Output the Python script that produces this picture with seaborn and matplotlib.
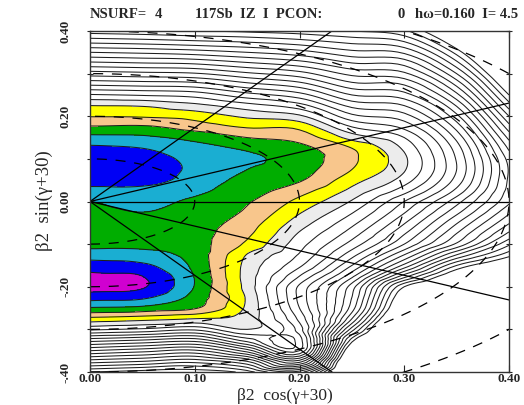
import numpy as np
import matplotlib
matplotlib.use("Agg")
import matplotlib.pyplot as plt
import matplotlib.tri as mtri
import seaborn as sns

# grid of the surface: x = beta2 cos(gamma+30), y = beta2 sin(gamma+30)
GRID_X = [0.00, 0.05, 0.10, 0.15, 0.20, 0.25, 0.30, 0.35, 0.40]
GRID_Y = [0.400, 0.375, 0.350, 0.325, 0.300, 0.275, 0.250, 0.225, 0.200, 0.175, 0.150,
          0.125, 0.100, 0.075, 0.050, 0.025, 0.000, -0.025, -0.050, -0.075, -0.100,
          -0.125, -0.150, -0.175, -0.200, -0.225, -0.250, -0.275, -0.300, -0.325,
          -0.350, -0.375, -0.400]

# surface value in units of contour steps, one list per x column (top to bottom)
LEVEL_X00 = [21.5, 19.3, 17.0, 14.8, 12.5, 10.2, 7.9, 6.0, 5.05, 3.9, 2.7, 1.8, 1.45, 1.35, 1.6, 2.3, 3.0,
             3.3, 3.55, 3.5, 3.3, 2.5, 1.5, 0.8, 0.6, 1.6, 3.1, 5.3, 7.8, 11.5, 15.0, 18.5, 22.0]
LEVEL_X05 = [21.7, 19.5, 17.2, 15.0, 12.7, 10.4, 8.1, 6.1, 5.1, 3.85, 2.8, 2.0, 1.5, 1.4, 1.7, 2.25, 2.7,
             3.0, 3.35, 3.45, 3.25, 2.65, 1.8, 1.0, 0.9, 1.8, 3.3, 5.6, 8.2, 12.0, 15.6, 19.0, 22.5]
LEVEL_X10 = [22.0, 19.8, 17.5, 15.2, 12.9, 10.6, 8.4, 6.7, 5.4, 4.45, 3.3, 2.65, 2.3, 2.2, 2.35, 2.75, 3.2,
             3.45, 3.6, 3.65, 3.6, 3.45, 3.25, 3.05, 3.05, 3.4, 3.9, 6.0, 8.8, 12.5, 16.2, 19.6, 22.7]
LEVEL_X15 = [22.2, 20.1, 18.0, 15.9, 13.8, 11.7, 9.6, 7.6, 6.2, 5.1, 4.0, 3.15, 2.8, 3.0, 3.35, 3.6, 3.9,
             4.15, 4.5, 4.8, 5.2, 6.05, 6.35, 6.45, 6.4, 6.15, 6.2, 6.5, 7.0, 9.5, 13.5, 18.0, 21.5]
LEVEL_X20 = [22.5, 20.6, 18.6, 16.6, 14.6, 12.6, 10.6, 8.6, 6.8, 5.3, 4.4, 3.7, 3.45, 3.6, 3.9, 4.6, 5.3,
             5.9, 6.5, 7.1, 7.6, 8.1, 8.8, 10.0, 11.2, 11.3, 11.0, 10.3, 9.5, 8.5, 9.0, 13.5, 19.5]
LEVEL_X25 = [23.0, 21.3, 19.7, 18.0, 16.3, 14.7, 13.0, 11.3, 9.7, 8.0, 6.4, 5.0, 4.8, 5.0, 5.6, 6.3, 7.1,
             7.9, 8.7, 9.5, 10.4, 11.6, 13.0, 14.7, 16.5, 17.0, 17.5, 19.0, 21.5, 24.5, 27.0, 29.0, 30.5]
LEVEL_X30 = [23.8, 22.0, 20.2, 18.4, 16.8, 15.1, 13.6, 12.0, 10.6, 9.3, 8.0, 7.2, 6.8, 6.9, 7.5, 8.6, 10.0,
             10.9, 11.9, 12.9, 14.0, 16.0, 18.3, 21.5, 25.0, 26.5, 27.5, 29.0, 30.0, 31.0, 32.0, 33.0, 34.0]
LEVEL_X35 = [28.0, 26.2, 24.4, 22.7, 21.0, 19.3, 17.7, 16.1, 14.7, 13.4, 12.3, 11.5, 11.1, 11.0, 11.4, 12.3, 13.6,
             14.7, 15.9, 17.0, 18.2, 21.0, 24.0, 26.5, 28.5, 29.5, 30.5, 31.5, 32.0, 32.5, 33.0, 33.5, 34.0]
LEVEL_X40 = [34.0, 32.5, 31.0, 29.5, 28.0, 26.5, 25.0, 23.5, 22.0, 20.6, 19.3, 18.2, 17.4, 17.1, 17.2, 17.4, 17.8,
             18.8, 19.9, 21.2, 22.8, 24.6, 27.0, 29.0, 30.5, 31.5, 32.5, 33.0, 33.5, 34.0, 34.0, 34.0, 34.0]

FILL_LEVELS = [-5, 1, 2, 3, 4, 5, 6, 7]
FILL_COLORS = ["#d000d0", "#0000f5", "#1aaed2", "#00ad00", "#f8c68c", "#ffff00", "#ececec"]
LINE_LEVELS = list(range(1, 26))

GAMMA_LINES = [30, 0, -30, -60, -90]      # straight gamma lines
BETA_CIRCLES = [0.1, 0.2, 0.3, 0.4, 0.5]  # dashed beta circles

X_TICKS = [0.0, 0.1, 0.2, 0.3, 0.4]
X_TICKLABELS = ["0.00", "0.10", "0.20", "0.30", "0.40"]
Y_TICKS = [-0.4, -0.2, 0.0, 0.2, 0.4]
Y_TICKLABELS = ["-.40", "-.20", "0.00", "0.20", "0.40"]

sns.set_theme(style="ticks")
plt.rcParams["font.family"] = ["Liberation Serif", "DejaVu Serif"]

fig = plt.figure(figsize=(5.24, 4.05), dpi=100)
ax = fig.add_axes([90 / 524, 1 - 372 / 405, 419 / 524, 341 / 405])

# surface on index grid, smoothed by matplotlib's refiner
z = np.column_stack([LEVEL_X00, LEVEL_X05, LEVEL_X10, LEVEL_X15, LEVEL_X20,
                     LEVEL_X25, LEVEL_X30, LEVEL_X35, LEVEL_X40])
ii, jj = np.meshgrid(np.arange(len(GRID_X)), np.arange(len(GRID_Y)))
tri = mtri.Triangulation(ii.ravel().astype(float), jj.ravel().astype(float))
interp = mtri.CubicTriInterpolator(tri, z.ravel(), kind="geom")
tri_r, z_r = mtri.UniformTriRefiner(tri).refine_field(z.ravel(), triinterpolator=interp, subdiv=3)
gx = np.interp(tri_r.x, np.arange(len(GRID_X)), GRID_X)
gy = np.interp(tri_r.y, np.arange(len(GRID_Y)), GRID_Y)
tri_xy = mtri.Triangulation(gx, gy, tri_r.triangles)

ax.tricontourf(tri_xy, z_r, levels=FILL_LEVELS, colors=FILL_COLORS)
ax.tricontour(tri_xy, z_r, levels=LINE_LEVELS, colors="#1e1e1e", linewidths=0.75)

# gamma lines from the origin
for g in GAMMA_LINES:
    a = np.deg2rad(g + 30)
    sns.lineplot(x=[0, 0.9 * np.cos(a)], y=[0, 0.9 * np.sin(a)], ax=ax,
                 color="black", linewidth=0.9, sort=False, estimator=None)

# beta circles
th = np.deg2rad(np.linspace(-90, 90, 361))
for b in BETA_CIRCLES:
    sns.lineplot(x=b * np.cos(th), y=b * np.sin(th), ax=ax, color="black",
                 linewidth=0.9, linestyle=(0, (8, 7)), sort=False, estimator=None)

ax.set_xlim(0, 0.4)
ax.set_ylim(-0.4, 0.4)
ax.set_xticks(X_TICKS)
ax.set_xticklabels(X_TICKLABELS, fontweight="bold", fontsize=9.5)
ax.set_yticks(Y_TICKS)
ax.set_yticklabels(Y_TICKLABELS, fontweight="bold", fontsize=9.5, rotation=90, va="center")
ax.set_yticks([-0.3, -0.1, 0.1, 0.3], minor=True)
ax.tick_params(which="both", direction="inout", length=5, width=0.8, top=True, right=True)
ax.tick_params(axis="x", direction="in", pad=1)
ax.tick_params(axis="y", pad=11)
for s in ax.spines.values():
    s.set_color("#333333")
    s.set_linewidth(1.0)
ax.set_xlabel("")
ax.set_ylabel("")

fig.text(285 / 524, 0.5 / 405, "β2  cos(γ+30)", fontsize=12.5, ha="center", va="bottom")
fig.text(44 / 524, 1 - 201 / 405, "β2  sin(γ+30)", fontsize=13.5, ha="center", va="center",
         rotation=90)

title_y = 1 - 15 / 405
for px, txt in [(90, "NSURF="), (155, "4"), (195, "117Sb  IZ  I  PCON:"),
                (397, "0"), (415, "hω=0.160  I= 4.5")]:
    fig.text(px / 524, title_y, txt, fontsize=10.5, fontweight="bold", va="center", ha="left")

fig.savefig("out.png", dpi=100)
